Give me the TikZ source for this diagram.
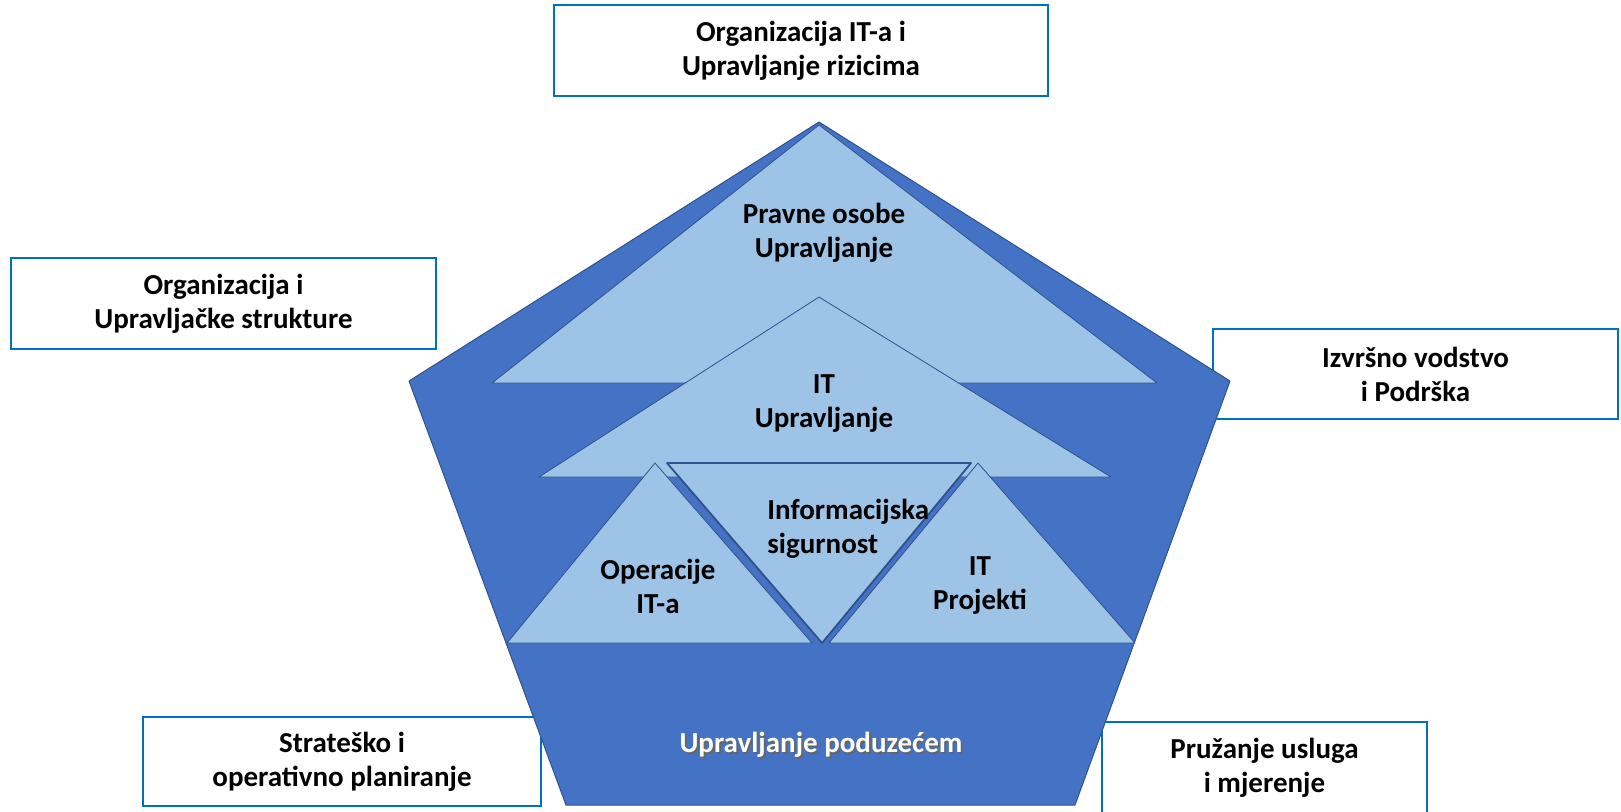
\documentclass[tikz,border=0pt]{standalone}
\usepackage{fontspec}
\setmainfont{Carlito}
\usepackage{tikz}
\definecolor{pentablue}{HTML}{4472C4}
\definecolor{edgeblue}{HTML}{2F528F}
\definecolor{trilight}{HTML}{9DC3E6}
\definecolor{boxblue}{HTML}{0070C0}
\newcommand{\lbl}{\fontsize{14.5}{17}\selectfont\bfseries}
\newcommand{\shadowed}[1]{\makebox[0pt][l]{\hspace{0.9pt}\raisebox{-0.9pt}{\textcolor{black!60}{#1}}}#1}
\tikzset{
  pentagon/.style={fill=pentablue, draw=edgeblue, line width=0.5pt, line join=round},
  tri/.style={fill=trilight, draw=edgeblue, line width=0.4pt, line join=round},
  tridown/.style={fill=trilight, draw=edgeblue, line width=0.9pt, line join=round},
  infobox/.style={draw=boxblue, line width=1pt, fill=white, align=center, inner sep=0pt, font=\lbl},
  lab/.style={font=\lbl, align=center, inner sep=0pt},
}
\begin{document}
\begin{tikzpicture}[x=0.5pt, y=-0.5pt]
  \clip (0,0) rectangle (1621,811);

  % boxes round the pentagon
  \node[infobox, minimum width=247pt, minimum height=45.5pt] (orgit) at (801,50.5)
    {Organizacija IT-a i\\Upravljanje rizicima};
  \node[infobox, minimum width=212.5pt, minimum height=45.5pt] (orgstr) at (223.5,303.5)
    {Organizacija i\\Upravljačke strukture};
  \node[infobox, minimum width=202.5pt, minimum height=45pt] (izvrsno) at (1415.5,374)
    {Izvršno vodstvo\\i Podrška};
  \node[infobox, minimum width=199pt, minimum height=44.5pt] (strat) at (342,761.5)
    {Strateško i\\operativno planiranje};
  \node[infobox, minimum width=162.5pt, minimum height=46pt] (pruz) at (1264.5,768)
    {Pružanje usluga\\i mjerenje};

  % pentagon
  \coordinate (top) at (819,122);
  \coordinate (left) at (409,381);
  \coordinate (right) at (1230,381);
  \coordinate (botr) at (1075,805);
  \coordinate (botl) at (566,805);
  \draw[pentagon] (top) -- (right) -- (botr) -- (botl) -- (left) -- cycle;

  % triangles
  \draw[tri] (819,125) -- (1157,383) -- (492,383) -- cycle;
  \draw[tri] (819,297) -- (1111,477) -- (539,477) -- cycle;
  \draw[tri] (655,463) -- (812,643) -- (507,643) -- cycle;
  \draw[tridown] (667,463) -- (971,463) -- (822,643) -- cycle;
  \draw[tri] (978,463) -- (1135,643) -- (829,643) -- cycle;

  \node[lab] (pravne) at (824,233) {Pravne osobe\\Upravljanje};
  \node[lab] (itupr) at (824,404) {IT\\Upravljanje};
  \node[lab, align=left, anchor=west] (infsig) at (767,529) {Informacijska\\sigurnost};
  \node[lab] (oper) at (658,586) {Operacije\\IT-a};
  \node[lab] (proj) at (980,586) {IT\\Projekti};
  \node[lab, text=white] (poduz) at (821,746) {\shadowed{Upravljanje poduzećem}};
\end{tikzpicture}
\end{document}
